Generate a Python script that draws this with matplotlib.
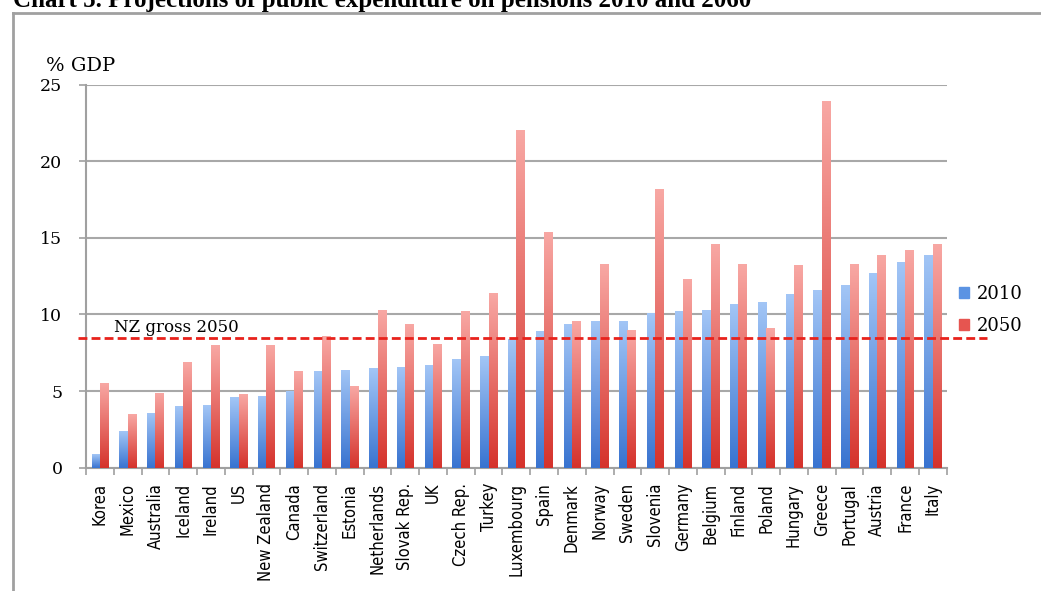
import matplotlib
matplotlib.use("Agg")
import matplotlib.pyplot as plt
import numpy as np
from matplotlib.colors import LinearSegmentedColormap
from matplotlib.lines import Line2D
from matplotlib.patches import Patch
from matplotlib import font_manager

countries = ["Korea", "Mexico", "Australia", "Iceland", "Ireland", "US", "New Zealand",
             "Canada", "Switzerland", "Estonia", "Netherlands", "Slovak Rep.", "UK",
             "Czech Rep.", "Turkey", "Luxembourg", "Spain", "Denmark", "Norway", "Sweden",
             "Slovenia", "Germany", "Belgium", "Finland", "Poland", "Hungary", "Greece",
             "Portugal", "Austria", "France", "Italy"]
v2010 = [0.9, 2.4, 3.6, 4.0, 4.1, 4.6, 4.7, 5.0, 6.3, 6.4, 6.5, 6.6, 6.7, 7.1, 7.3, 8.4,
         8.9, 9.4, 9.6, 9.6, 10.1, 10.2, 10.3, 10.7, 10.8, 11.3, 11.6, 11.9, 12.7, 13.4, 13.9]
v2050 = [5.5, 3.5, 4.9, 6.9, 8.0, 4.8, 8.0, 6.3, 8.6, 5.3, 10.3, 9.4, 8.1, 10.2, 11.4, 22.0,
         15.4, 9.6, 13.3, 9.0, 18.2, 12.3, 14.6, 13.3, 9.1, 13.2, 23.9, 13.3, 13.9, 14.2, 14.6]
nz_gross_2050 = 8.45
yticks = [0, 5, 10, 15, 20, 25]
series_labels = ["2010", "2050"]
title = "Chart 5. Projections of public expenditure on pensions 2010 and 2060"

# pick a condensed sans font for the category labels, if one is installed
def pick_condensed():
    best = None
    for f in font_manager.fontManager.ttflist:
        nm = f.name
        st = str(f.stretch).lower()
        cond = ("condensed" in st) or ("Condensed" in nm) or ("Narrow" in nm)
        if not cond or f.style != "normal":
            continue
        w = f.weight
        if isinstance(w, str):
            w = {"normal": 400, "regular": 400, "book": 400}.get(w.lower(), 700)
        if w != 400:
            continue
        if "semi" in st or "semi" in nm.lower() or "extra" in st:
            score = 1
        else:
            score = 2
        if best is None or score > best[0]:
            best = (score, f.fname)
    return best[1] if best else None

cond_path = pick_condensed()
if cond_path:
    xlab_fp = font_manager.FontProperties(fname=cond_path, size=14)
else:
    xlab_fp = font_manager.FontProperties(family="Liberation Sans", size=12)

W, H = 1041, 591
fig = plt.figure(figsize=(W / 100, H / 100), dpi=100)
ax = fig.add_axes([86 / W, 1 - 467.7 / H, (946.7 - 86) / W, (467.7 - 84.5) / H])

x = np.arange(len(countries))
bw = 0.3
blue_cmap = LinearSegmentedColormap.from_list("b", ["#3873d0", "#a3c6f6"])
red_cmap = LinearSegmentedColormap.from_list("r", ["#d5322b", "#f8a8a4"])

bars1 = ax.bar(x - bw / 2, v2010, bw, color="#5b93e3", zorder=3)
bars2 = ax.bar(x + bw / 2, v2050, bw, color="#e65550", zorder=3)

grad = np.linspace(0, 1, 256).reshape(-1, 1)
for bars, cmap in ((bars1, blue_cmap), (bars2, red_cmap)):
    for r in bars:
        x0, w, h = r.get_x(), r.get_width(), r.get_height()
        im = ax.imshow(grad, extent=[x0, x0 + w, 0, h], origin="lower", aspect="auto",
                       cmap=cmap, zorder=3.5, interpolation="bilinear")
        im.set_clip_path(r)

ax.set_xlim(-0.5, len(countries) - 0.5)
ax.set_ylim(0, 25)
ax.set_yticks(yticks)
ax.set_yticklabels([str(t) for t in yticks], family="DejaVu Serif", fontsize=12.5)
ax.yaxis.grid(True, color="#a8a8a8", linewidth=1.5, zorder=0)
ax.set_axisbelow(True)
for s in ("top", "right"):
    ax.spines[s].set_visible(False)
for s in ("left", "bottom"):
    ax.spines[s].set_color("#a0a0a0")
    ax.spines[s].set_linewidth(1.5)
ax.tick_params(axis="y", length=5, color="#a0a0a0", width=1.2, pad=12)

ax.set_xticks(x)
xlabels = ax.set_xticklabels(countries, rotation=90, fontproperties=xlab_fp, va="top", ha="center")
ax.set_xticks(np.arange(-0.5, len(countries), 1), minor=True)
ax.tick_params(axis="x", which="major", length=0, pad=11)
ax.tick_params(axis="x", which="minor", length=5, color="#a0a0a0", width=1.2)

# scale label font so the longest label spans about as in the reference
renderer = fig.canvas.get_renderer()
lux = xlabels[countries.index("Luxembourg")]
hpx = lux.get_window_extent(renderer).height
if hpx > 0:
    newsize = xlab_fp.get_size() * 93.0 / hpx
    newsize = min(newsize, 15.5)
    for t in xlabels:
        t.set_fontsize(newsize)

# NZ reference line
ax.add_line(Line2D([-0.0093, 1.047], [nz_gross_2050 / 25] * 2, transform=ax.transAxes,
                   color="#e8221c", linestyle=(0, (3.2, 1.5)), linewidth=2, clip_on=False, zorder=5))
ax.text(0.5, nz_gross_2050 + 0.15, "NZ gross 2050", family="DejaVu Serif",
        fontsize=12, ha="left", va="bottom", zorder=6)

ax.text(46 / W, 1 - 66 / H, "% GDP", transform=fig.transFigure, family="DejaVu Serif",
        fontsize=14, ha="left", va="center")

handles = [Patch(color="#5b93e3"), Patch(color="#e65550")]
leg = fig.legend(handles, series_labels, loc="upper left", bbox_to_anchor=(943 / W, 1 - 269 / H),
                 frameon=False, prop={"family": "DejaVu Serif", "size": 13},
                 handlelength=0.55, handleheight=0.55, handletextpad=0.4, labelspacing=0.75)

# outer frame
fig.add_artist(Line2D([13 / W, 13 / W], [0, 1 - 13 / H], transform=fig.transFigure,
                      color="#a0a0a0", linewidth=2))
fig.add_artist(Line2D([13 / W, 1], [1 - 13 / H, 1 - 13 / H], transform=fig.transFigure,
                      color="#a0a0a0", linewidth=2))
fig.text(13 / W, 1 - 7.5 / H, title, family="Liberation Serif", fontweight="bold",
         fontsize=18, ha="left", va="baseline")

fig.savefig("out.png", dpi=100)
